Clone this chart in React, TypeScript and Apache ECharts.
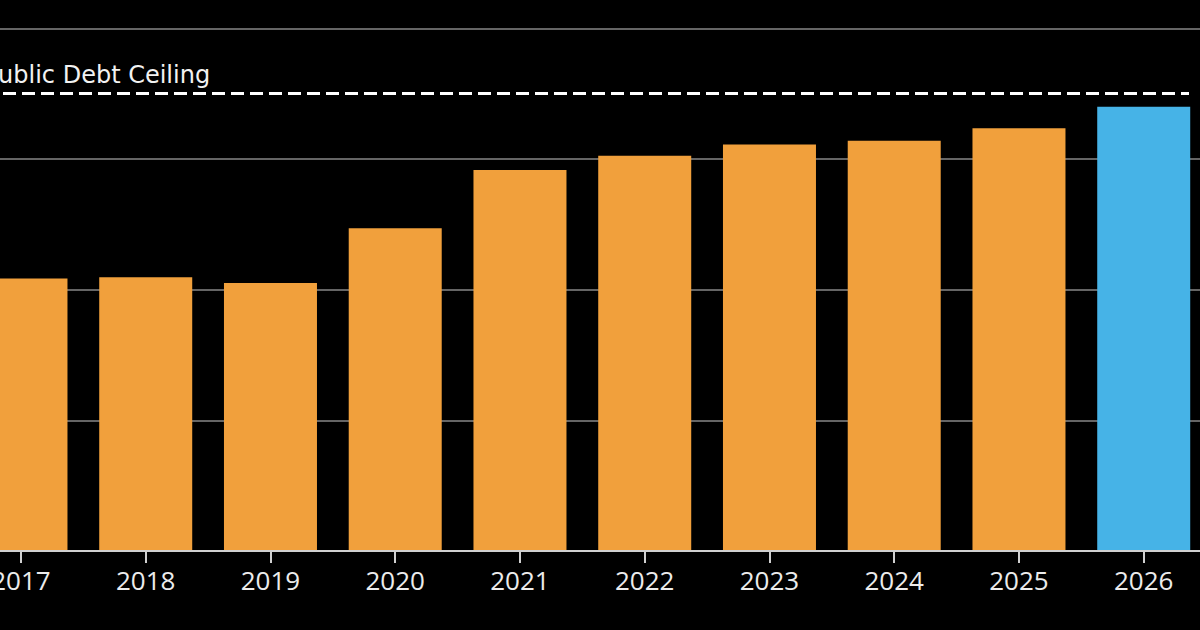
import React, { useEffect, useRef } from "react";
import * as echarts from "echarts";

// Yearly public debt, with the latest year highlighted
const years = ["2017", "2018", "2019", "2020", "2021", "2022", "2023", "2024", "2025", "2026"];
const debt = [41.7, 41.9, 41.0, 49.4, 58.3, 60.5, 62.2, 62.8, 64.7, 68.0];
const highlightYears = ["2026"];
const debtCeiling = 70;
const yTicks = [0, 20, 40, 60, 80];

const ORANGE = "#F1A03C";
const BLUE = "#46B3E7";

export default function App() {
  const ref = useRef<HTMLDivElement>(null);

  useEffect(() => {
    if (!ref.current) return;
    const chart = echarts.init(ref.current, null, { renderer: "svg" });

    chart.setOption({
      animation: false,
      backgroundColor: "#000000",
      grid: { left: 8.6, right: 43.9, top: 28.3, bottom: 79, containLabel: false },
      xAxis: {
        type: "category",
        data: years,
        boundaryGap: true,
        axisLine: { show: true, lineStyle: { color: "#d0d0d0", width: 2 } },
        axisTick: { show: true, alignWithLabel: true, length: 12, lineStyle: { color: "#d0d0d0", width: 2 } },
        axisLabel: {
          color: "#ececec",
          fontSize: 26,
          fontFamily: "Open Sans",
          margin: 16,
        },
        z: 5,
      },
      yAxis: {
        type: "value",
        min: yTicks[0],
        max: yTicks[yTicks.length - 1],
        interval: yTicks[1] - yTicks[0],
        axisLine: { show: false },
        axisTick: { show: false },
        axisLabel: { show: false },
        splitLine: { show: true, lineStyle: { color: "#656565", width: 2 } },
      },
      series: [
        {
          type: "bar",
          barWidth: 93,
          data: years.map((y, i) => ({
            value: debt[i],
            itemStyle: { color: highlightYears.includes(y) ? BLUE : ORANGE },
          })),
          markLine: {
            silent: true,
            symbol: ["none", "none"],
            lineStyle: { color: "#ffffff", width: 3, type: [13, 6], opacity: 1 },
            label: {
              show: true,
              position: "insideStartTop",
              formatter: "Public Debt Ceiling",
              color: "#f2f2f2",
              fontSize: 24,
              fontFamily: "DejaVu Sans",
              distance: [0, 7],
            },
            data: [
              [
                { coord: [years[0], debtCeiling], x: 34 },
                { coord: [years[years.length - 1], debtCeiling], x: 1239 },
              ],
            ],
          },
        },
      ],
    });

    return () => chart.dispose();
  }, []);

  return (
    <div
      ref={ref}
      style={{ position: "fixed", left: -50, top: 0, width: 1300, height: 630 }}
    />
  );
}
